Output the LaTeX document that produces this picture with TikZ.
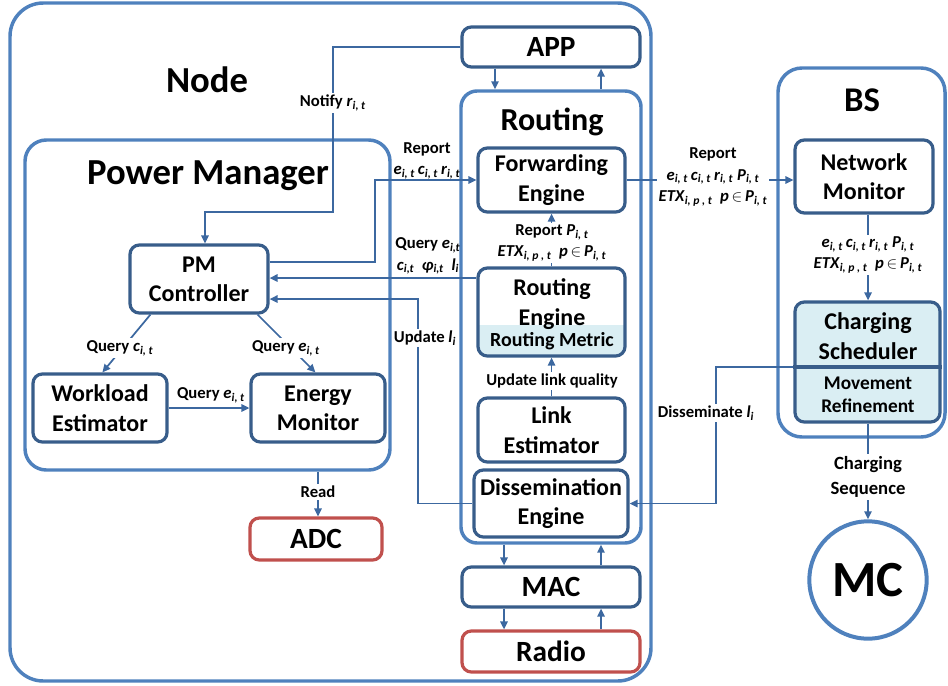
\documentclass[tikz,border=0pt]{standalone}
\usepackage{fontspec}
\setmainfont{Carlito}
\usetikzlibrary{calc,arrows.meta}
\definecolor{outerc}{HTML}{4F81BD}
\definecolor{innerc}{HTML}{385D8A}
\definecolor{redc}{HTML}{C0504D}
\definecolor{lightc}{HTML}{DAEEF3}
\definecolor{connc}{HTML}{3C68A0}
\newcommand\mv[2]{\textit{#1}\textsubscript{\textit{#2}}}
\newcommand\bx[7]{\node[#2, minimum width={(#5-#3)*0.75pt}, minimum height={(#6-#4)*0.75pt}] (#1) at ({(#3+#5)/2},{(#4+#6)/2}) {#7};}
\begin{document}
\begin{tikzpicture}[x=0.75pt,y=-0.75pt,
  outerbox/.style={draw=outerc, line width=2.6pt, inner sep=0pt},
  ibox/.style={draw=innerc, line width=2.4pt, rounded corners=7pt, fill=white, inner sep=0pt, align=center, font=\bfseries\fontsize{18}{22}\selectfont},
  bigbox/.style={ibox, font=\bfseries\fontsize{22}{24}\selectfont},
  rbox/.style={bigbox, draw=redc},
  link/.style={draw=connc, line width=1.3pt},
  arr/.style={link, -{Triangle[length=6pt,width=5.5pt]}},
  lab/.style={font=\bfseries\fontsize{12.5}{16}\selectfont, align=center, inner sep=1.5pt},
  wlab/.style={lab, fill=white},
  title/.style={font=\bfseries\fontsize{27.5}{30}\selectfont}]
\useasboundingbox (0,0) rectangle (948,685);
% outer containers
\bx{nodebox}{outerbox, rounded corners=25pt}{10}{3}{651}{681}{}
\node[title] (nodet) at (207,80) {Node};
\bx{pm}{outerbox, rounded corners=16pt}{25}{140}{390}{470}{}
\node[title] (pmt) at (208,176) {Power Manager};
\bx{rt}{outerbox, rounded corners=12pt}{461}{91}{641}{543}{}
\node[font=\bfseries\fontsize{24}{27}\selectfont] (rtt) at (552,122) {Routing};
\bx{bs}{outerbox, rounded corners=18pt}{778}{68}{945}{437}{}
\node[font=\bfseries\fontsize{26}{29}\selectfont] (bst) at (862,100) {BS};
% helper coordinates
\coordinate (xa) at (495,0);
\coordinate (xb) at (601,0);
\coordinate (xc) at (504,0);
\coordinate (xm) at (868,0);
\coordinate (xr) at (318,0);
\coordinate (n1) at (333,212);
\coordinate (n2) at (205,212);
\coordinate (r1) at (375,262);
\coordinate (q1) at (440,278);
\coordinate (u1) at (418,299);
\coordinate (d1) at (716,367);
\coordinate (csd) at (868,367);
% routing engine background
\begin{scope}
\clip[rounded corners=7pt] (478,268) rectangle (625,356);
\fill[white] (478,268) rectangle (625,356);
\fill[lightc] (478,325) rectangle (625,356);
\end{scope}
% inner boxes
\bx{app}{bigbox}{462}{27}{640}{67}{APP}
\bx{fe}{ibox}{478}{148}{625}{212}{Forwarding\\Engine}
\bx{re}{ibox, fill=none}{478}{268}{625}{356}{}
\node[font=\bfseries\fontsize{18}{22}\selectfont, align=center] (ret) at (552,304) {Routing\\Engine};
\node[font=\bfseries\fontsize{15}{17}\selectfont] (rmt) at (552,341) {Routing Metric};
\bx{le}{ibox}{478}{398}{625}{462}{Link\\Estimator}
\bx{dis}{ibox}{474}{470}{628}{537}{Dissemination\\Engine}
\bx{mac}{bigbox}{462}{567}{640}{607}{MAC}
\bx{radio}{rbox}{462}{631}{640}{672}{Radio}
\bx{pmc}{ibox}{130}{245}{268}{313}{PM\\Controller}
\bx{we}{ibox}{33}{374}{167}{442}{Workload\\Estimator}
\bx{em}{ibox}{251}{374}{385}{442}{Energy\\Monitor}
\bx{adc}{rbox}{250}{518}{382}{560}{ADC}
\bx{nm}{ibox}{795}{140}{933}{213}{Network\\Monitor}
\bx{cs}{ibox, fill=lightc}{795}{302}{940}{422}{}
\draw[innerc, line width=2.4pt] (cs.west |- csd) -- (cs.east |- csd);
\node[font=\bfseries\fontsize{18}{22}\selectfont, align=center] (cst) at (868,336) {Charging\\Scheduler};
\node[font=\bfseries\fontsize{14.5}{17.5}\selectfont, align=center] (cmt) at (868,395) {Movement\\Refinement};
\node[circle, draw=outerc, line width=3pt, minimum size=88pt, inner sep=0pt, font=\bfseries\fontsize{38}{40}\selectfont] (mc) at (868,580) {MC};
% connectors
\draw[arr] (app.south -| xa) -- (rt.north -| xa);
\draw[arr] (rt.north -| xb) -- (app.south -| xb);
\draw[arr] (rt.south -| xc) -- (mac.north -| xc);
\draw[arr] (mac.north -| xb) -- (rt.south -| xb);
\draw[arr] (mac.south -| xc) -- (radio.north -| xc);
\draw[arr] (radio.north -| xb) -- (mac.south -| xb);
\draw[arr] (app.west) -| (n1) -- (n2) -- (n2 |- pmc.north);
\draw[arr] (r1 -| pmc.east) -- (r1) |- (fe.west);
\draw[arr] (q1 -| re.west) -- (q1 -| pmc.east);
\draw[arr] (dis.west) -| (u1) -- (u1 -| pmc.east);
\draw[arr] (re.north) -- (fe.south);
\draw[arr] (le.north) -- (re.south);
\draw[arr] (fe.east) -- (fe.east -| nm.west);
\draw[arr] (nm.south -| xm) -- (cs.north -| xm);
\draw[arr] (d1 -| cs.west) -- (d1) |- (dis.east);
\draw[arr] (cs.south -| xm) -- (mc.north);
\draw[arr] ($(pmc.south west)+(22,0)$) -- ($(we.north west)+(71,0)$);
\draw[arr] ($(pmc.south east)+(-12,0)$) -- ($(em.north west)+(66,0)$);
\draw[arr] (we.east) -- (em.west);
\draw[arr] (pm.south -| xr) -- (adc.north -| xr);
% labels
\node[wlab] (lnotify) at (333,103) {Notify \mv{r}{i, t}};
\node[lab] (lrep) at (427,161) {Report\\\mv{e}{i, t}\,\mv{c}{i, t}\,\mv{r}{i, t}};
\node[lab] (lq) at (428,256) {Query \mv{e}{i,t}\\\mv{c}{i,t}\ \ \mv{φ}{i,t}\ \ \mv{l}{i}};
\node[wlab] (lu) at (425,338) {Update \mv{l}{i}};
\node[wlab] (lrp) at (552,243) {Report \mv{P}{i, t}\\\mv{ETX}{i, p , t}\ \ \textit{p}\,$\in$\,\mv{P}{i, t}};
\node[wlab] (lul) at (552,381) {Update link quality};
\node[wlab] (lbs) at (713,177) {Report\\\mv{e}{i, t}\,\mv{c}{i, t}\,\mv{r}{i, t}\ \mv{P}{i, t}\\\mv{ETX}{i, p , t}\ \ \textit{p}\,$\in$\,\mv{P}{i, t}};
\node[wlab] (lnc) at (868,255) {\mv{e}{i, t}\,\mv{c}{i, t}\,\mv{r}{i, t}\ \mv{P}{i, t}\\\mv{ETX}{i, p , t}\ \ \textit{p}\,$\in$\,\mv{P}{i, t}};
\node[wlab] (ldis) at (706,413) {Disseminate \mv{l}{i}};
\node[wlab, font=\bfseries\fontsize{14}{19}\selectfont] (lcs) at (868,477) {Charging\\Sequence};
\node[wlab] (lqc) at (120,348) {Query \mv{c}{i, t}};
\node[wlab] (lqe) at (286,348) {Query \mv{e}{i, t}};
\node[lab] (lqe2) at (211,395) {Query \mv{e}{i, t}};
\node[wlab] (lread) at (318,492) {Read};
\end{tikzpicture}
\end{document}
